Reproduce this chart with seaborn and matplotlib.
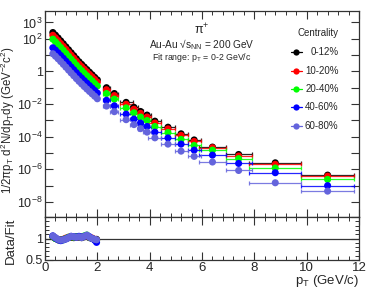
import numpy as np
import pandas as pd
import matplotlib
matplotlib.use("Agg")
import matplotlib.pyplot as plt
import seaborn as sns
from matplotlib.ticker import FixedLocator, NullFormatter, MultipleLocator

# ---------------- data ----------------
pt = [0.3, 0.4, 0.5, 0.6, 0.7, 0.8, 0.9, 1.0, 1.1, 1.2, 1.3, 1.4, 1.5, 1.6, 1.7, 1.8, 1.9, 2.0,
      2.35, 2.65, 3.1, 3.4, 3.65, 3.9, 4.2, 4.7, 5.2, 5.7, 6.4, 7.4, 8.8, 10.8]
pt_err = [0]*18 + [0.15, 0.15, 0.25, 0.15, 0.1, 0.15, 0.25, 0.25, 0.25, 0.25, 0.5, 0.5, 1.0, 1.0]

centralities = ["0-12%", "10-20%", "20-40%", "40-60%", "60-80%"]
colors = ["#000000", "#ff0000", "#00ff00", "#0000ff", "#6464dc"]

y_0_12 = [240, 166, 112, 74, 49, 32, 21, 13.8, 9.1, 5.9, 3.9, 2.7, 1.86, 1.29, 0.89, 0.62, 0.43, 0.30,
          0.10, 0.044, 0.0126, 0.0063, 0.0035, 0.0021, 8.9e-4, 3.8e-4, 1.5e-4, 6.3e-5, 2.3e-5, 8.1e-6, 2.5e-6, 4.4e-7]
y_10_20 = [163, 113, 77, 51, 34, 22.5, 14.8, 9.7, 6.5, 4.2, 2.8, 1.95, 1.35, 0.94, 0.65, 0.46, 0.32, 0.22,
           0.075, 0.033, 0.0096, 0.0048, 0.0027, 0.0016, 6.9e-4, 3.0e-4, 1.2e-4, 5.1e-5, 2.1e-5, 6.5e-6, 2.0e-6, 3.8e-7]
y_20_40 = [94, 65, 44, 29, 19.3, 12.7, 8.4, 5.5, 3.7, 2.4, 1.6, 1.11, 0.77, 0.54, 0.37, 0.26, 0.18, 0.127,
           0.044, 0.020, 0.0058, 0.0029, 0.0016, 9.8e-4, 4.2e-4, 1.8e-4, 6.8e-5, 2.9e-5, 1.5e-5, 4.5e-6, 1.2e-6, 2.4e-7]
y_40_60 = [28, 20, 13.8, 9.3, 6.3, 4.2, 2.8, 1.85, 1.25, 0.83, 0.56, 0.39, 0.27, 0.19, 0.135, 0.095, 0.067, 0.047,
           0.017, 0.0078, 0.0024, 0.0012, 6.8e-4, 4.2e-4, 1.9e-4, 8.4e-5, 3.5e-5, 1.5e-5, 7.4e-6, 2.3e-6, 6.2e-7, 1.0e-7]
y_60_80 = [12, 8.5, 5.9, 4.0, 2.7, 1.8, 1.2, 0.80, 0.54, 0.36, 0.245, 0.17, 0.118, 0.083, 0.059, 0.042, 0.030, 0.021,
           0.0075, 0.0034, 0.0011, 5.5e-4, 3.1e-4, 1.9e-4, 8.5e-5, 3.5e-5, 1.3e-5, 6.2e-6, 2.8e-6, 8.5e-7, 1.5e-7, 4.6e-8]
spectra = [y_0_12, y_10_20, y_20_40, y_40_60, y_60_80]

pt_fit = [0.3, 0.4, 0.5, 0.6, 0.7, 0.8, 0.9, 1.0, 1.1, 1.2, 1.3, 1.4, 1.5, 1.6, 1.7, 1.8, 1.9, 1.97]
r_0_12 = [1.04, 1.00, 0.98, 0.97, 0.98, 1.00, 1.02, 1.03, 1.02, 1.04, 1.03, 1.02, 1.04, 1.05, 1.02, 1.00, 0.97, 0.98]
r_10_20 = [1.05, 1.01, 0.97, 0.96, 0.98, 1.01, 1.03, 1.04, 1.03, 1.03, 1.04, 1.03, 1.05, 1.06, 1.03, 1.01, 0.98, 0.96]
r_20_40 = [1.05, 1.00, 0.97, 0.96, 0.97, 1.00, 1.03, 1.04, 1.03, 1.04, 1.04, 1.03, 1.06, 1.08, 1.03, 1.00, 0.97, 0.95]
r_40_60 = [1.06, 1.01, 0.97, 0.95, 0.97, 0.99, 1.02, 1.05, 1.04, 1.03, 1.05, 1.03, 1.05, 1.07, 1.04, 1.00, 0.96, 0.91]
r_60_80 = [1.06, 1.02, 0.98, 0.96, 0.97, 0.99, 1.02, 1.05, 1.04, 1.03, 1.04, 1.02, 1.05, 1.08, 1.03, 1.00, 0.98, 0.97]
ratios = [r_0_12, r_10_20, r_20_40, r_40_60, r_60_80]

ytick_vals = [1e3, 1e2, 1e1, 1, 1e-1, 1e-2, 1e-3, 1e-4, 1e-5, 1e-6, 1e-7, 1e-8]
ytick_labels = ["$10^{3}$", "$10^{2}$", "", "1", "", "$10^{-2}$", "", "$10^{-4}$", "", "$10^{-6}$", "", "$10^{-8}$"]

# ---------------- style ----------------
sns.set_style("ticks")
plt.rcParams["font.family"] = ["Liberation Sans", "DejaVu Sans"]
plt.rcParams["mathtext.default"] = "regular"

fig = plt.figure(figsize=(3.74, 2.90), dpi=100)
W, H = 374, 290
x0, x1 = 45, 359
ax = fig.add_axes([x0 / W, 1 - 217 / H, (x1 - x0) / W, (217 - 11) / H])
axr = fig.add_axes([x0 / W, 1 - 260 / H, (x1 - x0) / W, (260 - 217) / H], sharex=ax)

rows = []
for c, ys in zip(centralities, spectra):
    for p, e, v in zip(pt, pt_err, ys):
        rows.append({"pt": p, "xerr": e, "y": v, "cent": c})
df = pd.DataFrame(rows)

rrows = []
for c, rs in zip(centralities, ratios):
    for p, v in zip(pt_fit, rs):
        rrows.append({"pt": p, "r": v, "cent": c})
dfr = pd.DataFrame(rrows)

pal = dict(zip(centralities, colors))
for c in centralities:
    sub = df[df.cent == c]
    hi = sub[sub.xerr > 0]
    ax.errorbar(hi.pt, hi.y, xerr=hi.xerr, fmt="none", ecolor=pal[c], elinewidth=0.9,
                capsize=1.2, capthick=0.9, alpha=0.85, zorder=2)
    sns.scatterplot(data=sub, x="pt", y="y", color=pal[c], s=26, edgecolor="none",
                    ax=ax, legend=False, zorder=3)
    sns.scatterplot(data=dfr[dfr.cent == c], x="pt", y="r", color=pal[c], s=26,
                    edgecolor="none", ax=axr, legend=False, zorder=3)

ax.set_yscale("log")
ax.set_xlim(0, 12)
ax.set_ylim(1.2e-9, 5e3)
ax.yaxis.set_major_locator(FixedLocator(ytick_vals))
ax.set_yticklabels(ytick_labels)
ax.yaxis.set_minor_locator(FixedLocator([]))
ax.xaxis.set_major_locator(MultipleLocator(2))
ax.xaxis.set_minor_locator(MultipleLocator(0.4))
plt.setp(ax.get_xticklabels(), visible=False)
ax.set_xlabel("")
ax.set_ylabel("1/2$\\pi$p$_{T}$ d$^{2}$N/dp$_{T}$dy (GeV$^{-2}$c$^{2}$)", fontsize=8.3, labelpad=1)
ax.yaxis.set_label_coords(-0.088, 0.47)

axr.set_ylim(0.5, 1.5)
axr.axhline(1.0, color="#333333", lw=0.9, zorder=1)
axr.yaxis.set_major_locator(FixedLocator([0.5, 1.0, 1.5]))
axr.set_yticklabels(["0.5", "1", ""])
axr.yaxis.set_minor_locator(MultipleLocator(0.1))
axr.set_ylabel("Data/Fit", fontsize=9.5, labelpad=1)
axr.yaxis.set_label_coords(-0.088, 0.45)
axr.set_xlabel("")
fig.text(359 / W, 1 - 281 / H, "p$_{T}$ (GeV/c)", ha="right", va="center", fontsize=9.5)

for a in (ax, axr):
    for s in a.spines.values():
        s.set_visible(True)
        s.set_color("#333333")
        s.set_linewidth(0.9)
    a.tick_params(which="both", direction="in", top=True, right=True, labelsize=9.5,
                  color="#333333", pad=1.5)
    a.tick_params(which="major", length=6, width=0.8)
    a.tick_params(which="minor", length=3, width=0.7)
ax.tick_params(axis="y", labelsize=9)
axr.tick_params(axis="y", labelsize=9)

# annotations
ax.text(0.50, 0.91, "$\\pi^{+}$", transform=ax.transAxes, ha="center", va="center", fontsize=9)
ax.text(0.50, 0.838, "Au-Au \u221as$_{NN}$ = 200 GeV", transform=ax.transAxes,
        ha="center", va="center", fontsize=7.3)
ax.text(0.50, 0.775, "Fit range: p$_{T}$ = 0-2 GeV/c", transform=ax.transAxes,
        ha="center", va="center", fontsize=6.3)
ax.text(0.87, 0.893, "Centrality", transform=ax.transAxes, ha="center", va="center", fontsize=7)
leg_y = [0.80, 0.709, 0.621, 0.534, 0.442]
for c, col, yy in zip(centralities, colors, leg_y):
    ax.plot([0.783, 0.817], [yy, yy], transform=ax.transAxes, color=col, lw=0.9, zorder=4)
    ax.plot([0.80], [yy], transform=ax.transAxes, marker="o", ms=4.5, color=col,
            mec="none", zorder=5)
    ax.text(0.935, yy, c, transform=ax.transAxes, ha="right", va="center", fontsize=7)

fig.savefig("out.png", dpi=100)
